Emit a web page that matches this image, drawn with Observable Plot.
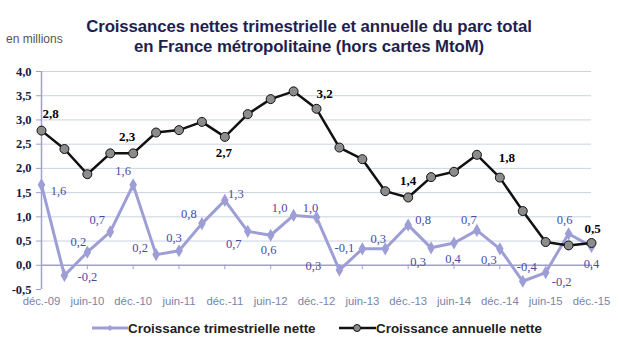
<!DOCTYPE html>
<html>
<head>
<meta charset="utf-8">
<script src="https://cdn.jsdelivr.net/npm/d3@7"></script>
<script src="https://cdn.jsdelivr.net/npm/@observablehq/plot@0.6"></script>
<style>
  html, body { margin: 0; padding: 0; background: #fff; }
  #wrap { position: relative; width: 620px; height: 350px; overflow: hidden; background: #fff; }
  #title { position: absolute; left: 0; width: 618px; top: 17px; text-align: center;
    font: bold 16.8px "Liberation Sans", Arial, sans-serif; line-height: 19.5px; color: #1f1f4f; letter-spacing: -0.1px; }
  #unit { position: absolute; left: 6px; top: 32px; font: 12px "Liberation Sans", Arial, sans-serif; color: #555; }
  #chart { position: absolute; left: 0; top: 60px; }
  .leg { position: absolute; top: 320px; font: bold 13.4px "Liberation Sans", Arial, sans-serif; color: #222; display: flex; align-items: center; height: 16px; }
  .leg svg { display: block; }
</style>
</head>
<body>
<div id="wrap">
  <div id="unit">en millions</div>
  <div id="title">Croissances nettes trimestrielle et annuelle du parc total<br>en France métropolitaine (hors cartes MtoM)</div>
  <div id="chart"></div>
  <div class="leg" style="left:92px"><svg width="36" height="16"><line x1="0" y1="8" x2="36" y2="8" stroke="#9e9ed6" stroke-width="3"/><path d="M18 5 L21 8 L18 11 L15 8 Z" fill="#9e9ed6"/></svg>Croissance trimestrielle nette</div>
  <div class="leg" style="left:339px"><svg width="37" height="16"><line x1="0" y1="8" x2="37" y2="8" stroke="#111" stroke-width="2.5"/><circle cx="18" cy="8" r="3.5" fill="#8c8c8c" stroke="#111" stroke-width="1"/></svg>Croissance annuelle nette</div>
</div>
<script>
// ---- Data ----
const quarters = ["déc.-09","mars-10","juin-10","sept.-10","déc.-10","mars-11","juin-11","sept.-11","déc.-11",
  "mars-12","juin-12","sept.-12","déc.-12","mars-13","juin-13","sept.-13","déc.-13","mars-14","juin-14",
  "sept.-14","déc.-14","mars-15","juin-15","sept.-15","déc.-15"];
const annual = [2.78, 2.40, 1.88, 2.31, 2.31, 2.74, 2.79, 2.96, 2.65, 3.12, 3.43, 3.59, 3.23,
  2.43, 2.19, 1.53, 1.40, 1.82, 1.93, 2.28, 1.81, 1.12, 0.48, 0.41, 0.46];
const quarterly = [1.66, -0.21, 0.27, 0.69, 1.66, 0.22, 0.30, 0.86, 1.34, 0.70, 0.62, 1.03, 0.99,
  -0.10, 0.34, 0.34, 0.83, 0.36, 0.46, 0.72, 0.34, -0.33, -0.15, 0.65, 0.39];
const quarterlyLabels = ["1,6","-0,2","0,2","0,7","1,6","0,2","0,3","0,8","1,3","0,7","0,6","1,0","1,0",
  "-0,1","0,3","0,3","0,8","0,3","0,4","0,7","0,3","-0,4","-0,2","0,6","0,4"];
const annualLabelIdx = [0, 4, 8, 12, 16, 20, 24];
const annualLabels = ["2,8","2,3","2,7","3,2","1,4","1,8","0,5"];
const yTicks = [-0.5, 0, 0.5, 1, 1.5, 2, 2.5, 3, 3.5, 4];

// ---- Layout (label offsets in px, relative to their point) ----
const qOff = [[17,6],[23,2],[-9,-10],[-13,-12],[-10,-14],[-16,-7],[-5,-13],[-13,-10],[11,-6],[-14,13],[-2,15],
  [-14,-7],[-6,-9],[5,-22],[-49,17],[-7,-10],[15,-5],[-13,14],[-1,16],[-8,-10],[-11,11],[4,-14],[16,9],[-4,-14],[0,18]];
const aOff = [[9,-17],[-6,-17],[-1,16],[8,-15],[0,-17],[7,-20],[1,-14]];

const idx = d3.range(quarters.length);
const qData = idx.map(i => ({i, v: quarterly[i], label: quarterlyLabels[i]}));
const aData = idx.map(i => ({i, v: annual[i]}));
const lav = "#9e9ed6";
const fmt = d => d.toFixed(1).replace(".", ",");

const marks = [
  Plot.gridY(yTicks.filter(d => d > 0), {stroke: "#c9d3e0", strokeOpacity: 1, strokeWidth: 1}),
  Plot.axisY(yTicks, {tickFormat: fmt, tickSize: 5, tickPadding: 5, stroke: lav, fill: "#1a1a40",
    fontFamily: "'Liberation Serif', 'Times New Roman', serif", fontSize: 12.5, fontWeight: "bold", label: null}),
  Plot.ruleX([0], {y1: -0.5, y2: 4, stroke: lav, strokeWidth: 1.5}),
  Plot.ruleY([0], {stroke: lav, strokeWidth: 1.5}),
  Plot.ruleX(d3.range(2, 25, 2), {y1: 0, y2: -0.09, stroke: lav, strokeWidth: 1}),
  Plot.axisX(d3.range(0, 25, 2), {tickFormat: i => quarters[i], tickSize: 0, tickPadding: 7, fill: "#7884a8",
    fontFamily: "'Liberation Sans', Arial, sans-serif", fontSize: 11.3, label: null}),
  Plot.line(qData, {x: "i", y: "v", stroke: lav, strokeWidth: 3}),
  Plot.dot(qData, {x: "i", y: "v", symbol: "diamond", r: 4, fill: lav}),
  Plot.line(aData, {x: "i", y: "v", stroke: "#111", strokeWidth: 2.5}),
  Plot.dot(aData, {x: "i", y: "v", r: 4.5, fill: "#8c8c8c", stroke: "#111", strokeWidth: 1}),
  ...qData.map((d, k) => Plot.text([d], {x: "i", y: "v", text: "label", dx: qOff[k][0], dy: qOff[k][1],
    fill: "#4a4aa6", fontSize: 12.5, fontFamily: "'Liberation Serif', 'Times New Roman', serif"})),
  ...annualLabelIdx.map((i, k) => Plot.text([{i, v: annual[i], label: annualLabels[k]}], {x: "i", y: "v", text: "label",
    dx: aOff[k][0], dy: aOff[k][1], fill: "#000", fontSize: 13, fontWeight: "bold",
    fontFamily: "'Liberation Serif', 'Times New Roman', serif"}))
];

const chart = Plot.plot({
  width: 620,
  height: 250,
  marginTop: 11,
  marginBottom: 21,
  marginLeft: 41,
  marginRight: 29,
  style: {background: "#fff", overflow: "visible"},
  x: {type: "linear", domain: [0, 24], axis: null},
  y: {domain: [-0.5, 4], axis: null},
  marks
});
document.getElementById("chart").appendChild(chart);
</script>
</body>
</html>
